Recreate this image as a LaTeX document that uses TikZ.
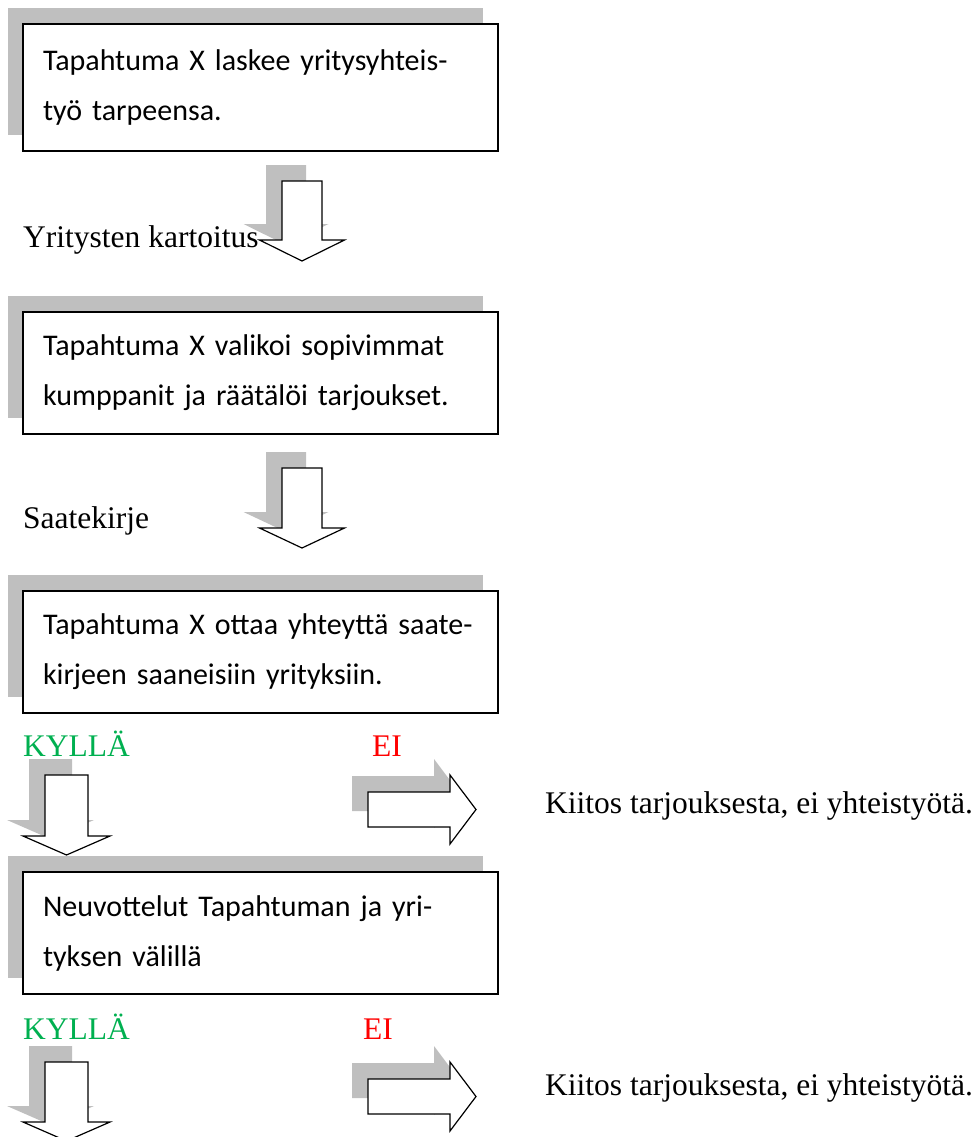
\documentclass[tikz,border=0pt]{standalone}
\usepackage{fontspec}
\setmainfont{Liberation Serif}
\newfontfamily\boxfont{Carlito}
\usepackage{tikz}
\usetikzlibrary{shadows}
\definecolor{shadowgray}{RGB}{191,191,191}
\definecolor{kyllagreen}{RGB}{0,176,80}
\definecolor{eired}{RGB}{255,0,0}
\tikzstyle{stepbox}=[draw=black,line width=1.5pt,fill=white,
                     minimum width=475pt,minimum height=122pt,
                     text width=435pt,inner xsep=20pt,inner ysep=0pt,align=left,
                     font=\boxfont\fontsize{30}{50}\selectfont,
                     general shadow={fill=shadowgray,shadow xshift=-15pt,shadow yshift=16pt}]
\tikzstyle{blockarrow}=[draw=black,line width=1.2pt,fill=white,line join=miter,
                        general shadow={fill=shadowgray,shadow xshift=-16pt,shadow yshift=16pt}]
\tikzstyle{plainlabel}=[anchor=base west,inner sep=0pt,
                        font=\fontsize{31.5}{37}\selectfont]

\begin{document}
\begin{tikzpicture}[x=1pt,y=-1pt]
    \useasboundingbox (0,0) rectangle (979,1137);
    % down arrow: centre x, top y, half shaft, half head, wing y, tip y
    \newcommand{\dnarrow}[6]{%
      \draw[blockarrow] (#1-#3,#2) -- (#1+#3,#2) -- (#1+#3,#5) -- (#1+#4,#5)
        -- (#1,#6) -- (#1-#4,#5) -- (#1-#3,#5) -- cycle;}
    % right arrow: left x, centre y, half shaft, half head, head x, tip x
    \newcommand{\rtarrow}[6]{%
      \draw[blockarrow] (#1,#2-#3) -- (#5,#2-#3) -- (#5,#2-#4) -- (#6,#2)
        -- (#5,#2+#4) -- (#5,#2+#3) -- (#1,#2+#3) -- cycle;}

    \node (need) at (260.5, 87.5) [stepbox,minimum height=127pt]
      {Tapahtuma X laskee yritysyhteis-\\työ tarpeensa.};
    \node (choose) at (260.5, 373) [stepbox]
      {Tapahtuma X valikoi sopivimmat\\kumppanit ja räätälöi tarjoukset.};
    \node (contact) at (260.5, 652) [stepbox]
      {\mbox{Tapahtuma X ottaa yhteyttä saate-}\\kirjeen saaneisiin yrityksiin.};
    \node (talks) at (260.5, 933) [stepbox]
      {Neuvottelut Tapahtuman ja yri-\\tyksen välillä};

    \dnarrow{302}{181}{20}{42.5}{240}{261}
    \dnarrow{302}{468}{20}{42.5}{528}{548}
    \dnarrow{66.5}{775}{21.5}{43.5}{836}{855}
    \dnarrow{66.5}{1062}{21.5}{43.5}{1122}{1141}
    \rtarrow{368}{809.5}{17.5}{34.5}{450}{476}
    \rtarrow{368}{1096.5}{17.5}{34.5}{450}{476}

    \node (search) at (23, 247) [plainlabel] {Yritysten kartoitus};
    \node (letter) at (23, 528) [plainlabel] {Saatekirje};
    \node (yes1) at (23, 756) [plainlabel,text=kyllagreen] {KYLLÄ};
    \node (no1) at (372, 756) [plainlabel,text=eired] {EI};
    \node (thanks1) at (545, 813) [plainlabel] {Kiitos tarjouksesta, ei yhteistyötä.};
    \node (yes2) at (23, 1039) [plainlabel,text=kyllagreen] {KYLLÄ};
    \node (no2) at (363, 1039) [plainlabel,text=eired] {EI};
    \node (thanks2) at (545, 1095) [plainlabel] {Kiitos tarjouksesta, ei yhteistyötä.};
  \end{tikzpicture}
\end{document}
